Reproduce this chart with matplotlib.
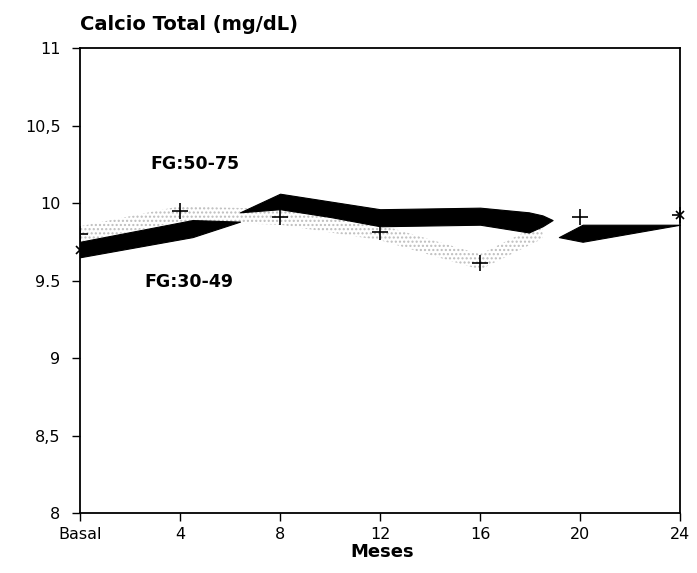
import matplotlib
matplotlib.use('Agg')
import matplotlib.pyplot as plt

# tick labels as printed in the original figure
x_ticks = [0, 4, 8, 12, 16, 20, 24]
x_labels = ['Basal', '4', '8', '12', '16', '20', '24']
y_ticks = [8, 8.5, 9, 9.5, 10, 10.5, 11]
y_labels = ['8', '8,5', '9', '9.5', '10', '10,5', '11']

# FG:50-75 -> crosses with stippled trace
fg50_months = [0, 4, 8, 12, 16, 20, 24]
fg50_calcio = [9.80, 9.95, 9.91, 9.81, 9.61, 9.91, 9.92]

# FG:30-49 -> black ribbon, drawn in three pieces as in the scan
rib_a_x = [0, 4.5, 6.4]
rib_a_hi = [9.75, 9.89, 9.88]
rib_a_lo = [9.65, 9.78, 9.88]

rib_b_x = [6.4, 8, 10, 12, 16, 17.95, 18.5, 18.9]
rib_b_hi = [9.94, 10.06, 10.01, 9.96, 9.97, 9.94, 9.92, 9.89]
rib_b_lo = [9.94, 9.96, 9.91, 9.85, 9.86, 9.81, 9.85, 9.89]

rib_c_x = [19.15, 20.1, 24]
rib_c_hi = [9.78, 9.86, 9.86]
rib_c_lo = [9.78, 9.75, 9.86]

# stippled trace of FG:50-75 (up to ~18.5 months)
stip_x = [0, 4, 8, 12, 16, 18.5]
stip_y = [9.80, 9.93, 9.91, 9.81, 9.62, 9.82]

fig = plt.figure(figsize=(6.97, 5.73), dpi=100)
ax = fig.add_axes([0.1148, 0.1047, 0.861, 0.8115])

ax.fill_between(stip_x, [v - 0.05 for v in stip_y], [v + 0.05 for v in stip_y],
                facecolor='none', edgecolor='#bdbdbd', hatch='....', linewidth=0)

for xs, hi, lo in [(rib_a_x, rib_a_hi, rib_a_lo),
                   (rib_b_x, rib_b_hi, rib_b_lo),
                   (rib_c_x, rib_c_hi, rib_c_lo)]:
    ax.fill_between(xs, lo, hi, color='black', linewidth=0.8)

ax.plot(fg50_months, fg50_calcio, linestyle='none', marker='+',
        markersize=11, markeredgewidth=1.2, color='black')
ax.plot([0, 24], [9.70, 9.92], linestyle='none', marker='x',
        markersize=6, markeredgewidth=1.2, color='black', clip_on=False)

ax.text(4.6, 10.25, 'FG:50-75', ha='center', va='center',
        fontsize=12.5, fontweight='bold')
ax.text(4.35, 9.49, 'FG:30-49', ha='center', va='center',
        fontsize=12.5, fontweight='bold')

ax.set_xlim(0, 24)
ax.set_ylim(8, 11)
ax.set_xticks(x_ticks)
ax.set_xticklabels(x_labels, fontsize=11.5)
ax.set_yticks(y_ticks)
ax.set_yticklabels(y_labels, fontsize=11.5)
ax.tick_params(direction='out', length=6, width=1, pad=8)
ax.tick_params(axis='x', pad=4)
for s in ax.spines.values():
    s.set_linewidth(1.3)

fig.text(0.549, 0.037, 'Meses', ha='center', va='center',
         fontsize=13, fontweight='bold')
fig.text(0.1148, 0.94, 'Calcio Total (mg/dL)', ha='left', va='bottom',
         fontsize=14, fontweight='bold')

fig.savefig('out.png', dpi=100)
